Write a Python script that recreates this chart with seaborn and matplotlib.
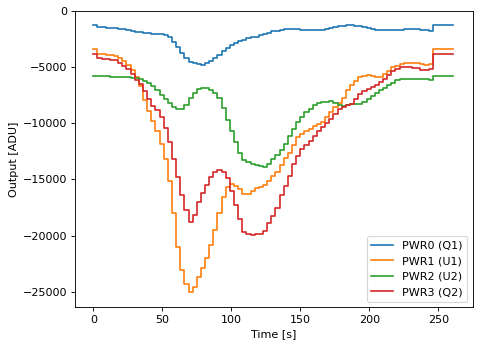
import numpy as np
import pandas as pd
import matplotlib
matplotlib.use("Agg")
import matplotlib.pyplot as plt
import seaborn as sns

time_s = list(range(0, 262, 3))

pwr0_q1 = [-1220, -1400, -1420, -1450, -1480, -1520, -1560, -1600, -1680, -1760,
           -1820, -1870, -1920, -1960, -1990, -2010, -2050, -2100, -2300, -2700,
           -3150, -3750, -4200, -4500, -4650, -4740, -4760, -4650, -4450, -4200,
           -3900, -3550, -3250, -2980, -2800, -2650, -2520, -2420, -2330, -2250,
           -2150, -2050, -1930, -1800, -1720, -1650, -1620, -1610, -1610, -1610,
           -1630, -1670, -1700, -1710, -1700, -1650, -1580, -1500, -1420, -1350,
           -1290, -1250, -1240, -1270, -1320, -1400, -1480, -1560, -1650, -1700,
           -1700, -1690, -1660, -1640, -1630, -1620, -1610, -1610, -1620, -1650,
           -1700, -1760, -1220, -1220, -1220, -1220, -1220, -1220]

pwr1_u1 = [-3380, -3840, -3840, -3870, -3920, -4020, -4150, -4400, -4750, -5200,
           -5900, -6700, -7900, -8900, -9800, -10700, -11800, -13200, -15100, -18000,
           -21000, -23100, -24300, -25050, -24600, -23700, -22900, -22000, -20800, -19500,
           -18000, -16550, -15700, -15400, -15600, -15850, -16300, -16300, -16000, -15800,
           -15650, -15450, -15150, -14700, -14300, -13700, -13100, -12600, -11900, -11200,
           -10900, -10700, -10500, -10250, -10050, -9850, -9450, -9000, -8550, -8150,
           -7750, -7050, -6550, -6200, -5880, -5750, -5720, -5760, -5830, -5820,
           -5600, -5300, -5000, -4850, -4700, -4640, -4620, -4610, -4640, -4720,
           -4820, -4700, -3380, -3380, -3380, -3380, -3380, -3380]

pwr2_u2 = [-5800, -5800, -5800, -5810, -5820, -5830, -5840, -5850, -5870, -5920,
           -5980, -6050, -6200, -6380, -6700, -7050, -7420, -7800, -8150, -8500,
           -8750, -8700, -8350, -7750, -7250, -6950, -6850, -6870, -7000, -7300,
           -7700, -8650, -9650, -10700, -11700, -12650, -13250, -13450, -13650, -13750,
           -13800, -13850, -13600, -13200, -12800, -12350, -11800, -11150, -10500, -9900,
           -9450, -9000, -8700, -8350, -8200, -8100, -8060, -8040, -8150, -8320,
           -8450, -8400, -8300, -8270, -8250, -8100, -7850, -7550, -7300, -7050,
           -6800, -6580, -6350, -6160, -6050, -6010, -6010, -6010, -6020, -6040,
           -6060, -6100, -5780, -5780, -5780, -5780, -5780, -5780]

pwr3_q2 = [-3840, -4200, -4250, -4280, -4320, -4380, -4600, -4850, -5150, -5550,
           -6100, -6500, -7100, -7850, -8450, -8800, -9400, -10400, -11700, -13200,
           -14800, -16400, -17700, -18750, -18150, -17000, -16200, -15500, -14750, -14350,
           -14150, -14300, -14850, -16000, -17300, -18500, -19650, -19860, -19950, -19900,
           -19850, -19550, -18900, -18250, -17500, -16400, -15550, -14700, -13650, -12900,
           -12300, -11950, -11550, -11100, -10650, -10350, -10000, -9600, -9150, -8750,
           -8550, -8400, -8250, -7850, -7400, -7150, -6900, -6750, -6550, -6300,
           -6000, -5650, -5350, -5150, -4980, -4960, -4980, -5030, -5100, -5200,
           -5270, -5150, -3840, -3840, -3840, -3840, -3840, -3840]

labels = ["PWR0 (Q1)", "PWR1 (U1)", "PWR2 (U2)", "PWR3 (Q2)"]
series = [pwr0_q1, pwr1_u1, pwr2_u2, pwr3_q2]

df = pd.concat([pd.DataFrame({"Time": time_s, "Output": s, "Channel": lab})
                for lab, s in zip(labels, series)], ignore_index=True)

fig = plt.figure(figsize=(483 / 80, 347 / 80), dpi=80)
ax = fig.add_axes([0.156, 0.1144, 0.8228, 0.853])
colors = ["#1f77b4", "#ff7f0e", "#2ca02c", "#d62728"]
sns.lineplot(data=df, x="Time", y="Output", hue="Channel", hue_order=labels,
             palette=colors, drawstyle="steps-post", linewidth=1.5, ax=ax)
ax.set_xlim(-13, 275)
ax.set_ylim(-26400, 0)
ax.set_xticks([0, 50, 100, 150, 200, 250])
ax.set_yticks([0, -5000, -10000, -15000, -20000, -25000])
ax.set_xlabel("Time [s]")
ax.set_ylabel("Output [ADU]")
handles, _ = ax.get_legend_handles_labels()
ax.legend(handles[-4:], labels, loc="lower right")
fig.savefig("out.png", dpi=80)
